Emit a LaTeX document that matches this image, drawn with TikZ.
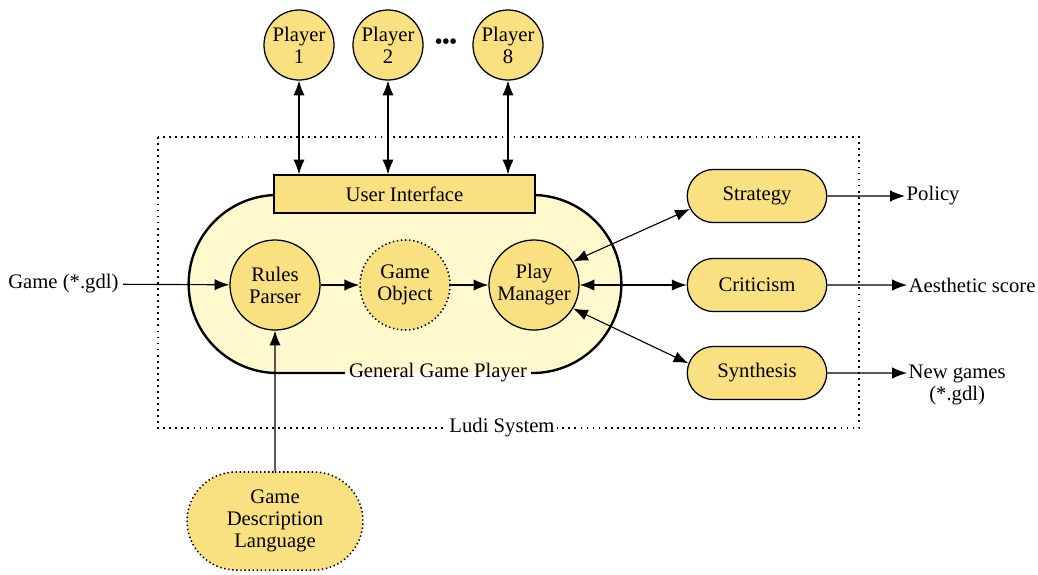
\documentclass[tikz,border=0pt]{standalone}
\usepackage{fontspec}
\setmainfont{Liberation Serif}
\usepackage{tikz}
\usetikzlibrary{arrows.meta,shapes.misc}

\definecolor{ludiyellow}{RGB}{249,224,128}
\definecolor{ggpfill}{RGB}{255,249,205}

\tikzset{
  module/.style={circle,draw,fill=ludiyellow,line width=0.9pt,minimum size=2.25cm,inner sep=0pt,align=center},
  player/.style={module,minimum size=1.75cm},
  tool/.style={rounded rectangle,draw,fill=ludiyellow,line width=0.9pt,minimum width=3.72cm,minimum height=1.33cm,align=center},
  dotborder/.style={dash pattern=on 1pt off 1.9pt,line width=1.1pt},
  link/.style={line width=0.8pt,-{Latex[length=10.5pt,width=8pt]}},
  twoway/.style={line width=0.8pt,{Latex[length=10.5pt,width=8pt]}-{Latex[length=10.5pt,width=8pt]}},
  outtext/.style={anchor=west,inner sep=1pt,align=center}
}

\begin{document}
\begin{tikzpicture}[x=0.025cm,y=-0.025cm,font=\fontsize{14.7}{15.6}\selectfont]
  \useasboundingbox (0,0) rectangle (1038,574);

  % Ludi System frame
  \draw[dash pattern=on 1.3pt off 3pt,line width=1.3pt] (158,137) rectangle (859,428);
  \node[fill=white,inner sep=2pt] (Ludi) at (502,428) {Ludi System};

  % General Game Player
  \node[rounded rectangle,draw,fill=ggpfill,line width=1.7pt,minimum width=11.05cm,minimum height=4.45cm] (GGP) at (405,284) {};
  \node[fill=ggpfill,inner sep=3pt,
        path picture={\fill[white] (path picture bounding box.south west) rectangle (path picture bounding box.east);}]
        (GGPlabel) at (438,373) {General Game Player};

  \node[draw,fill=ludiyellow,line width=0.9pt,minimum width=6.525cm,minimum height=0.95cm] (UI) at (404.5,194) {User Interface};

  % players
  \node[player] (P1) at (299,45) {Player\\1};
  \node[player] (P2) at (388,45) {Player\\2};
  \node[player] (P8) at (508,45) {Player\\8};
  \node (Dots) at (446,44) {\textbf{\textbullet\textbullet\textbullet}};

  \draw[twoway] (P1) -- (P1 |- UI.north);
  \draw[twoway] (P2) -- (P2 |- UI.north);
  \draw[twoway] (P8) -- (P8 |- UI.north);

  % inner modules
  \node[module] (RP) at (275,285) {Rules\\Parser};
  \node[module,dotborder] (GO) at (405,285) {Game\\Object};
  \node[module] (PM) at (534,285) {Play\\Manager};

  \draw[link] (RP) -- (GO);
  \draw[link] (GO) -- (PM);

  \node[anchor=east,inner sep=3pt] (GameIn) at (123,284) {Game (*.gdl)};
  \draw[link] (GameIn) -- (RP);

  \node[tool,dotborder,minimum width=4.63cm,minimum height=2.45cm] (GDL) at (275,521) {Game\\Description\\Language};
  \draw[link] (GDL) -- (RP);

  % tools
  \node[tool] (Strat) at (757,196) {Strategy};
  \node[tool] (Crit) at (757,285) {Criticism};
  \node[tool] (Synth) at (757,373) {Synthesis};

  \draw[twoway] (PM.31) -- (Strat.191);
  \draw[twoway] (PM) -- (Crit);
  \draw[twoway] (PM.-31) -- (Synth.172);

  % outputs
  \node[outtext] (Policy) at (905,196) {Policy};
  \node[outtext] (Score) at (907,285) {Aesthetic score};
  \node[outtext] (NewGames) at (907,385) {New games\\(*.gdl)};

  \draw[link] (Strat) -- (Policy);
  \draw[link] (Crit) -- (Score);
  \draw[link] (Synth) -- (Synth -| NewGames.west);
\end{tikzpicture}
\end{document}
